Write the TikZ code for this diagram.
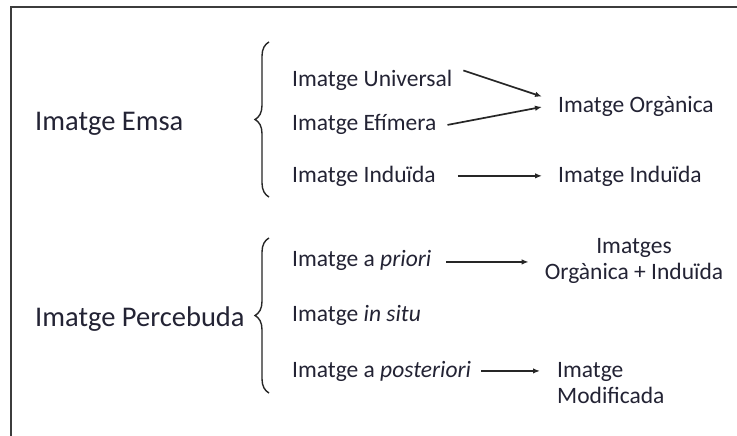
\documentclass[tikz,border=0pt]{standalone}
\usepackage{fontspec}
\setmainfont{Carlito}
\usetikzlibrary{decorations.pathreplacing,arrows.meta}
\definecolor{txt}{RGB}{35,35,52}
\definecolor{frm}{RGB}{60,60,60}
\begin{document}
\begin{tikzpicture}[x=1pt,y=-1pt,
  lbl/.style={anchor=base west,inner sep=0pt,text=txt,font=\fontsize{23.5}{26.5}\selectfont},
  big/.style={anchor=base west,inner sep=0pt,text=txt,font=\fontsize{28.5}{32}\selectfont},
  arr/.style={-{Latex[length=7pt,width=5.5pt]},line width=1.7pt,draw=black!85},
  brc/.style={decorate,decoration={brace,amplitude=14pt,aspect=0.5},line width=1.4pt,draw=black!85}]
\useasboundingbox (0,0) rectangle (737,436);
\clip (0,0) rectangle (737,436);
\fill[white] (0,0) rectangle (737,436);
\draw[line width=2pt,draw=frm] (10.5,7.5) rectangle (800,500);

% left labels
\node[big] (emsa) at (35,130) {Imatge Emsa};
\node[big] (perc) at (35,326) {Imatge Percebuda};

% braces
\coordinate (b1t) at (269,42);
\coordinate (b1b) at (269,197);
\coordinate (b2t) at (269,238);
\coordinate (b2b) at (269,393);
\draw[brc] (b1b) -- (b1t);
\draw[brc] (b2b) -- (b2t);

% middle column
\node[lbl] (univ) at (292,87) {Imatge Universal};
\node[lbl] (efim) at (292,131) {Imatge Efímera};
\node[lbl] (ind1) at (292,182) {Imatge Induïda};
\node[lbl] (prio) at (292,266) {Imatge a \textit{priori}};
\node[lbl] (situ) at (292,321) {Imatge \textit{in situ}};
\node[lbl] (post) at (292,377) {Imatge a \textit{posteriori}};

% right column
\node[lbl] (org) at (558,113) {Imatge Orgànica};
\node[lbl] (ind2) at (558,182) {Imatge Induïda};
\node[lbl,anchor=north,align=center] (orgind) at (634,238) {Imatges\\Orgànica + Induïda};
\node[lbl,anchor=north west,align=left] (modif) at (557,362) {Imatge\\Modificada};

% arrows
\draw[arr] ([xshift=11pt]univ.north east) -- ([xshift=-16pt]org.north west);
\draw[arr] ([xshift=11pt]efim.east) -- ([xshift=-16pt]org.west);
\draw[arr] ([xshift=22pt]ind1.east) -- ([xshift=-16pt]ind2.west);
\draw[arr] ([xshift=15pt,yshift=-2pt]prio.east) -- ([xshift=-16pt,yshift=-2pt]prio.east -| orgind.west);
\draw[arr] ([xshift=10pt]post.east) -- ([xshift=-17pt]post.east -| modif.west);
\end{tikzpicture}
\end{document}
